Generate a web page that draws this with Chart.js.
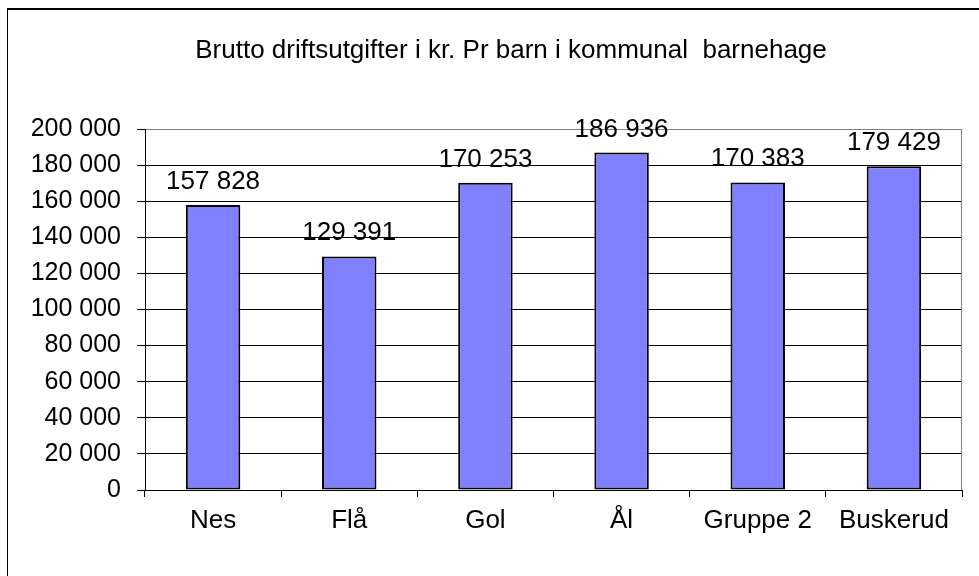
<!DOCTYPE html>
<html>
<head>
<meta charset="utf-8">
<script src="https://cdn.jsdelivr.net/npm/chart.js@4.4.1/dist/chart.umd.min.js"></script>
<style>
  html, body { margin: 0; padding: 0; background: #fff; }
  #wrap { width: 979px; height: 576px; position: relative; }
</style>
</head>
<body>
<div id="wrap"><canvas id="c" width="979" height="576"></canvas></div>
<script>
const titleText = "Brutto driftsutgifter i kr. Pr barn i kommunal  barnehage";
const categories = ["Nes", "Flå", "Gol", "Ål", "Gruppe 2", "Buskerud"];
const values = [157828, 129391, 170253, 186936, 170383, 179429];
const yTicks = [0, 20000, 40000, 60000, 80000, 100000, 120000, 140000, 160000, 180000, 200000];

const FONT = "'Liberation Sans', Arial, sans-serif";
function fmt(v) { return String(v).replace(/\B(?=(\d{3})+(?!\d))/g, ' '); }

const framePlugin = {
  id: 'frame',
  beforeDraw(chart) {
    const ctx = chart.ctx;
    ctx.save();
    ctx.fillStyle = '#fff';
    ctx.fillRect(0, 0, chart.width, chart.height);
    ctx.strokeStyle = '#000';
    ctx.lineWidth = 2;
    ctx.beginPath();
    ctx.moveTo(7, 9); ctx.lineTo(979, 9);
    ctx.stroke();
    ctx.lineWidth = 1;
    ctx.beginPath();
    ctx.moveTo(7.5, 8); ctx.lineTo(7.5, 576);
    ctx.stroke();
    // title
    ctx.fillStyle = '#000';
    ctx.font = "26px " + FONT;
    ctx.textAlign = 'center';
    ctx.textBaseline = 'alphabetic';
    ctx.fillText(titleText, 511, 58);
    ctx.restore();
  },
  afterDraw(chart) {
    const a = chart.chartArea;
    const ctx = chart.ctx;
    ctx.save();
    ctx.strokeStyle = '#808080';
    ctx.lineWidth = 1;
    ctx.beginPath();
    ctx.moveTo(Math.round(a.right) - 0.5, a.top);
    ctx.lineTo(Math.round(a.right) - 0.5, a.bottom);
    ctx.stroke();
    ctx.restore();
  }
};

const labelPlugin = {
  id: 'valueLabels',
  afterDatasetsDraw(chart) {
    const ctx = chart.ctx;
    const meta = chart.getDatasetMeta(0);
    ctx.save();
    ctx.fillStyle = '#000';
    ctx.font = "26px " + FONT;
    ctx.textAlign = 'center';
    ctx.textBaseline = 'alphabetic';
    meta.data.forEach((bar, i) => {
      ctx.fillText(fmt(chart.data.datasets[0].data[i]), bar.x, bar.y - 16);
    });
    ctx.restore();
  }
};

new Chart(document.getElementById('c'), {
  type: 'bar',
  data: {
    labels: categories,
    datasets: [{
      data: values,
      backgroundColor: '#8080FF',
      borderColor: '#000',
      borderWidth: 2,
      borderSkipped: false,
      barPercentage: 0.4,
      categoryPercentage: 1.0
    }]
  },
  options: {
    responsive: false,
    animation: false,
    devicePixelRatio: 1,
    layout: { padding: { top: 129, right: 17, left: 0, bottom: 0 } },
    plugins: {
      legend: { display: false },
      title: { display: false },
      tooltip: { enabled: false }
    },
    scales: {
      x: {
        afterFit(scale) { scale.height = 86; },
        grid: {
          offset: true,
          drawOnChartArea: false,
          drawTicks: true,
          tickLength: 7,
          color: '#000',
          tickColor: '#000',
          lineWidth: 1
        },
        border: { display: true, color: '#000', width: 1 },
        ticks: {
          color: '#000',
          font: { family: FONT, size: 26 },
          padding: 8,
          maxRotation: 0,
          autoSkip: false
        }
      },
      y: {
        min: 0,
        max: 200000,
        afterFit(scale) { scale.width = 145; },
        afterBuildTicks(scale) { scale.ticks = yTicks.map(v => ({ value: v })); },
        grid: {
          drawTicks: true,
          tickLength: 8,
          color: (c) => (c.tick && c.tick.value === 200000 ? '#808080' : '#000'),
          tickColor: '#000',
          lineWidth: 1
        },
        border: { display: true, color: '#000', width: 1 },
        ticks: {
          color: '#000',
          font: { family: FONT, size: 25 },
          padding: 16,
          callback: (v) => fmt(v)
        }
      }
    }
  },
  plugins: [framePlugin, labelPlugin]
});
</script>
</body>
</html>
